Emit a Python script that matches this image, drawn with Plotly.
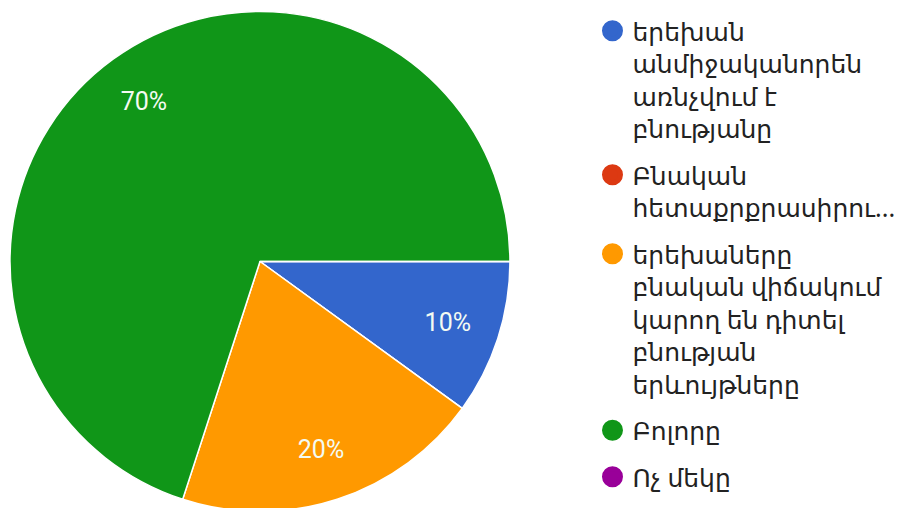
import plotly.graph_objects as go

labels = [
    "երեխան<br>անմիջականորեն<br>առնչվում է<br>բնությանը",
    "Բնական<br>հետաքրքրասիրու...",
    "երեխաները<br>բնական վիճակում<br>կարող են դիտել<br>բնության<br>երևույթները",
    "Բոլորը",
    "Ոչ մեկը",
]
values = [10, 0, 20, 70, 0]
colors = ["#3366CC", "#DC3912", "#FF9900", "#109618", "#990099"]

texttemplates = ["%{percent:.0%}" if v > 0 else "" for v in values]
dom = dict(x=[0.0022, 0.5565], y=[0.008, 0.994])

fig = go.Figure()
# filled pie (no text)
fig.add_trace(go.Pie(
    labels=labels, values=values,
    marker=dict(colors=colors, line=dict(color="white", width=1.5)),
    sort=False, direction="clockwise", rotation=90,
    textinfo="none", showlegend=False,
    hoverinfo="label+percent", domain=dom,
))
# transparent ring used only to place percentage labels further out
fig.add_trace(go.Pie(
    labels=labels, values=values, hole=0.58,
    marker=dict(colors=["rgba(0,0,0,0)"] * len(values), line=dict(width=0)),
    sort=False, direction="clockwise", rotation=90,
    texttemplate=texttemplates, textposition="inside",
    insidetextorientation="horizontal",
    textfont=dict(color="#F4FBF2", size=25, family="Roboto, DejaVu Sans, sans-serif"),
    showlegend=False, hoverinfo="skip", domain=dom,
))

for i, (lab, col) in enumerate(zip(labels, colors)):
    fig.add_trace(go.Scatter(
        x=[None], y=[None], mode="markers", name=lab,
        legendgroup=f"g{i}",
        marker=dict(symbol="circle", size=22, color=col, line=dict(color=col, width=5)),
        showlegend=True,
    ))

fig.update_layout(
    width=902, height=508,
    margin=dict(l=0, r=0, t=0, b=0),
    paper_bgcolor="white", plot_bgcolor="white",
    xaxis=dict(visible=False), yaxis=dict(visible=False),
    legend=dict(
        x=0.648, y=1.0, xanchor="left", yanchor="top",
        font=dict(size=25, color="#222222", family="Noto Sans, DejaVu Sans, sans-serif"),
        itemsizing="trace", valign="top", tracegroupgap=11,
        bgcolor="rgba(0,0,0,0)",
    ),
)

fig.write_html("out.html")
